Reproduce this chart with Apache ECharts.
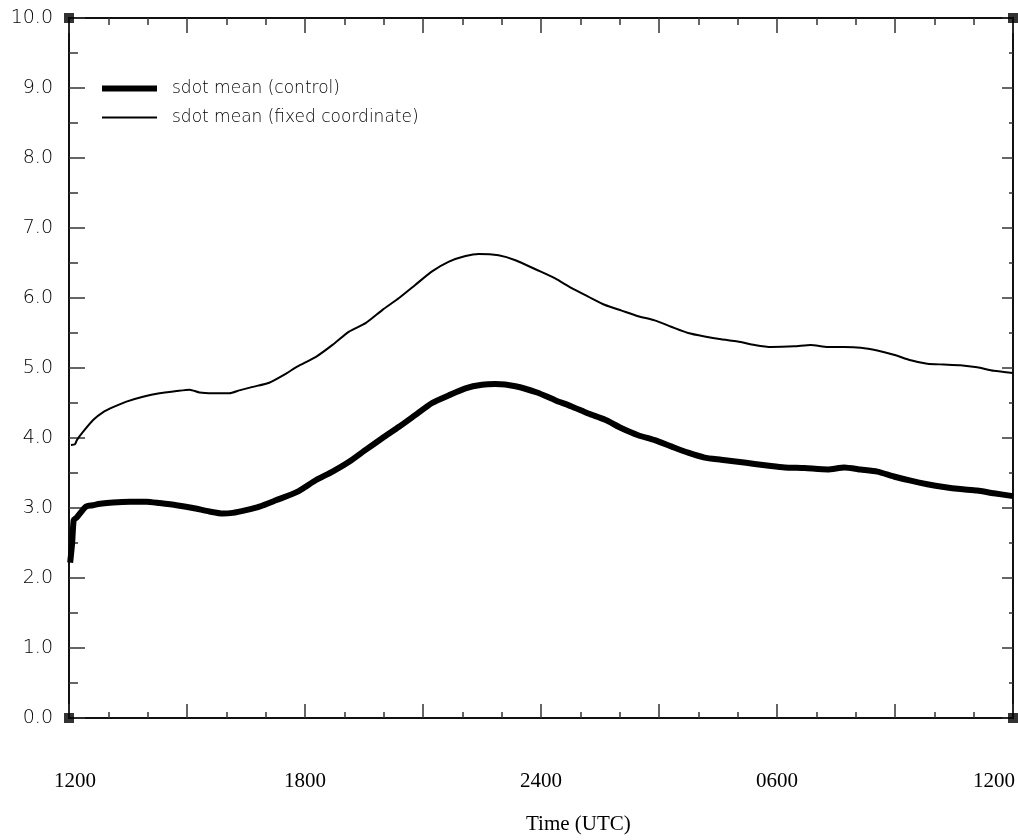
<!DOCTYPE html>
<html>
<head>
<meta charset="utf-8">
<title>sdot mean</title>
<script src="https://cdn.jsdelivr.net/npm/echarts@6/dist/echarts.min.js"></script>
<style>
  html, body { margin: 0; padding: 0; background: #fff; }
  #chart { width: 1018px; height: 840px; }
</style>
</head>
<body>
<div id="chart"></div>
<script>
// Time axis: hours since 1200 UTC
const xMin = 0, xMax = 24, yMin = 0, yMax = 10;
const xTickLabels = ['1200', '1800', '2400', '0600', '1200'];

const seriesNames = ['sdot mean (control)', 'sdot mean (fixed coordinate)'];

const hoursControl = [
  0.03, 0.08, 0.12, 0.19, 0.43, 0.61, 0.79, 1.12, 1.55, 1.97, 2.30, 2.73, 3.15,
  3.57, 3.91, 4.16, 4.50, 4.84, 5.26, 5.80, 6.28, 6.70, 7.12, 7.54, 7.97, 8.39,
  8.81, 9.23, 9.66, 10.08, 10.50, 10.84, 11.35, 11.90, 12.36, 12.78, 13.20,
  13.63, 14.05, 14.47, 14.89, 15.31, 15.74, 16.16, 16.58, 17.00, 17.43, 17.85,
  18.20, 18.70, 19.29, 19.71, 20.13, 20.55, 20.97, 21.40, 21.82, 22.24, 22.66,
  23.09, 23.51, 24.00
];
const sdotControl = [
  2.22, 2.50, 2.83, 2.86, 3.02, 3.04, 3.06, 3.08, 3.09, 3.09, 3.07, 3.04, 3.00,
  2.95, 2.92, 2.93, 2.97, 3.02, 3.11, 3.23, 3.40, 3.52, 3.66, 3.83, 4.00, 4.16,
  4.33, 4.50, 4.61, 4.71, 4.76, 4.77, 4.74, 4.65, 4.54, 4.45, 4.35,
  4.26, 4.14, 4.04, 3.97, 3.88, 3.79, 3.72, 3.69, 3.66, 3.63, 3.60,
  3.58, 3.57, 3.55, 3.58, 3.55, 3.52, 3.45, 3.39, 3.34, 3.30, 3.27,
  3.25, 3.21, 3.17
];

const hoursFixed = [
  0.05, 0.15, 0.20, 0.36, 0.62, 0.87, 1.12, 1.46, 1.88, 2.30, 2.73, 3.07, 3.32,
  3.66, 4.08, 4.33, 4.67, 5.09, 5.52, 5.80, 6.28, 6.70, 7.12, 7.54, 7.97, 8.39,
  8.81, 9.23, 9.66, 10.08, 10.42, 10.92, 11.35, 11.90, 12.36, 12.78, 13.20,
  13.63, 14.05, 14.47, 14.89, 15.31, 15.74, 16.16, 16.58, 17.00, 17.43, 17.85,
  18.44, 18.86, 19.29, 19.71, 20.13, 20.55, 20.97, 21.40, 21.82, 22.24, 22.66,
  23.09, 23.51, 24.00
];
const sdotFixed = [
  3.90, 3.91, 3.97, 4.09, 4.26, 4.37, 4.44, 4.52, 4.59, 4.64, 4.67, 4.69, 4.65,
  4.64, 4.64, 4.68, 4.73, 4.79, 4.92, 5.02, 5.16, 5.33, 5.52, 5.64, 5.83, 6.00,
  6.19, 6.38, 6.52, 6.60, 6.63, 6.61, 6.54, 6.40, 6.28, 6.14, 6.02,
  5.90, 5.82, 5.74, 5.68, 5.59, 5.50, 5.45, 5.41, 5.38, 5.33, 5.30,
  5.31, 5.33, 5.30, 5.30, 5.29, 5.25, 5.19, 5.11, 5.06, 5.05, 5.04,
  5.01, 4.96, 4.93
];

const pairs = (xs, ys) => xs.map((x, i) => [x, ys[i]]);
const corners = [[xMin, yMin], [xMax, yMin], [xMin, yMax], [xMax, yMax]];

const sansFont = '"DejaVu Sans", sans-serif';
const serifFont = '"Liberation Serif", "DejaVu Serif", serif';
const axisColor = '#111';
const tickStyle = { color: '#333', width: 1.5 };

function xAxisCommon(extra) {
  return Object.assign({
    type: 'value',
    min: xMin,
    max: xMax,
    interval: 3,
    splitLine: { show: false },
    axisLine: { show: true, onZero: false, lineStyle: { color: axisColor, width: 2 } },
    minorSplitLine: { show: false }
  }, extra);
}

function yAxisCommon(extra) {
  return Object.assign({
    type: 'value',
    min: yMin,
    max: yMax,
    interval: 1,
    splitLine: { show: false },
    axisLine: { show: true, onZero: false, lineStyle: { color: axisColor, width: 2 } },
    minorSplitLine: { show: false }
  }, extra);
}

function legendRow(name, top, thickness) {
  return {
    orient: 'vertical',
    left: 102,
    top: top,
    padding: 0,
    icon: 'rect',
    itemWidth: 55,
    itemHeight: thickness,
    selectedMode: false,
    itemStyle: { color: '#000', borderWidth: 0 },
    textStyle: {
      fontFamily: sansFont,
      fontSize: 17,
      fontWeight: 300,
      color: '#000',
      padding: [0, 0, 0, 10]
    },
    data: [name]
  };
}

const chart = echarts.init(document.getElementById('chart'), null, { renderer: 'canvas' });

chart.setOption({
  animation: false,
  backgroundColor: '#ffffff',
  grid: { left: 69, right: 2, top: 18, bottom: 122, containLabel: false },
  title: {
    text: 'Time (UTC)',
    left: 526,
    top: 814,
    padding: 0,
    textStyle: { fontFamily: serifFont, fontSize: 21, fontWeight: 'normal', color: '#000' }
  },
  legend: [
    legendRow(seriesNames[0], 80, 6),
    legendRow(seriesNames[1], 109, 2)
  ],
  xAxis: [
    xAxisCommon({
      position: 'bottom',
      axisTick: { show: true, inside: true, length: 14, lineStyle: tickStyle },
      minorTick: { show: true, splitNumber: 3, length: 6, lineStyle: tickStyle },
      axisLabel: {
        show: true,
        margin: 53,
        showMinLabel: true,
        showMaxLabel: true,
        fontFamily: serifFont,
        fontSize: 21,
        color: '#000',
        formatter: function (v) {
          if (v % 6 !== 0) return '';
          const t = xTickLabels[v / 6];
          if (v === xMin) return '{first|' + t + '}';
          if (v === xMax) return '{last|' + t + '}';
          return t;
        },
        rich: {
          first: { fontFamily: serifFont, fontSize: 21, color: '#000', padding: [0, 0, 0, 12] },
          last: { fontFamily: serifFont, fontSize: 21, color: '#000', padding: [0, 38, 0, 0] }
        }
      }
    }),
    xAxisCommon({
      position: 'top',
      axisTick: { show: true, inside: true, length: 15, lineStyle: tickStyle },
      minorTick: { show: true, splitNumber: 3, length: 7, lineStyle: tickStyle },
      axisLabel: { show: false }
    })
  ],
  yAxis: [
    yAxisCommon({
      position: 'left',
      axisTick: { show: true, inside: true, length: 16, lineStyle: tickStyle },
      minorTick: { show: true, splitNumber: 2, length: 9, lineStyle: tickStyle },
      axisLabel: {
        show: true,
        margin: 16,
        fontFamily: sansFont,
        fontSize: 19,
        fontWeight: 300,
        color: '#000',
        formatter: function (v) { return v.toFixed(1); }
      }
    }),
    yAxisCommon({
      position: 'right',
      axisTick: { show: true, inside: true, length: 11, lineStyle: tickStyle },
      minorTick: { show: true, splitNumber: 2, length: 4, lineStyle: tickStyle },
      axisLabel: { show: false }
    })
  ],
  series: [
    {
      name: seriesNames[0],
      type: 'line',
      xAxisIndex: 0,
      yAxisIndex: 0,
      showSymbol: false,
      symbol: 'none',
      smooth: 0.2,
      data: pairs(hoursControl, sdotControl),
      lineStyle: { color: '#000', width: 6, join: 'round', cap: 'butt' },
      itemStyle: { color: '#000' },
      z: 3
    },
    {
      name: seriesNames[1],
      type: 'line',
      xAxisIndex: 0,
      yAxisIndex: 0,
      showSymbol: false,
      symbol: 'none',
      smooth: 0.2,
      data: pairs(hoursFixed, sdotFixed),
      lineStyle: { color: '#000', width: 2, join: 'round' },
      itemStyle: { color: '#000' },
      z: 3
    },
    {
      // frame corner markers
      name: 'corners',
      type: 'scatter',
      xAxisIndex: 0,
      yAxisIndex: 0,
      symbol: 'rect',
      symbolSize: 10,
      silent: true,
      clip: false,
      data: corners,
      itemStyle: { color: '#000' },
      z: 5
    }
  ]
});
</script>
</body>
</html>
